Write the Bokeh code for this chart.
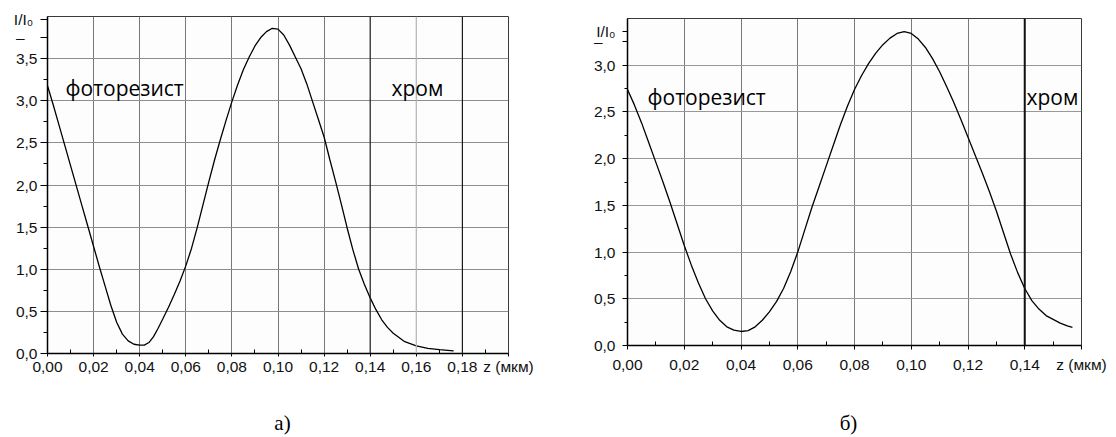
from bokeh.plotting import figure
from bokeh.layouts import row, column
from bokeh.models import FixedTicker, Span, Label, Range1d, CustomJSTickFormatter, LinearAxis
from bokeh.embed import file_html
from bokeh.resources import INLINE

# ---------------- data: chart a) ----------------
za = [0.000, 0.0025, 0.005, 0.0075, 0.010, 0.0125, 0.015, 0.0175, 0.020, 0.0225,
      0.025, 0.0275, 0.030, 0.0325, 0.035, 0.0375, 0.040, 0.042, 0.044, 0.046,
      0.048, 0.050, 0.0525, 0.055, 0.0575, 0.060, 0.0625, 0.065, 0.0675, 0.070,
      0.0725, 0.075, 0.0775, 0.080, 0.0825, 0.085, 0.0875, 0.090, 0.0925, 0.095,
      0.0975, 0.100, 0.1025, 0.105, 0.1075, 0.110, 0.1125, 0.115, 0.1175, 0.120,
      0.1225, 0.125, 0.1275, 0.130, 0.1325, 0.135, 0.1375, 0.140, 0.1425, 0.145,
      0.1475, 0.150, 0.155, 0.160, 0.165, 0.170, 0.1762]
ia = [3.18, 2.95, 2.71, 2.47, 2.23, 1.99, 1.75, 1.51, 1.27, 1.03,
      0.80, 0.57, 0.37, 0.23, 0.15, 0.11, 0.10, 0.10, 0.13, 0.20,
      0.30, 0.41, 0.55, 0.70, 0.86, 1.04, 1.25, 1.50, 1.77, 2.04,
      2.30, 2.54, 2.77, 2.99, 3.19, 3.37, 3.52, 3.65, 3.75, 3.82,
      3.86, 3.85, 3.78, 3.66, 3.52, 3.38, 3.20, 2.99, 2.78, 2.57,
      2.30, 2.04, 1.77, 1.49, 1.23, 1.00, 0.82, 0.66, 0.52, 0.40,
      0.31, 0.24, 0.14, 0.09, 0.06, 0.045, 0.03]
xa_major = [0.00, 0.02, 0.04, 0.06, 0.08, 0.10, 0.12, 0.14, 0.16, 0.18]
xa_minor = [0.01, 0.03, 0.05, 0.07, 0.09, 0.11, 0.13, 0.15, 0.17, 0.19]
ya_major = [0.0, 0.5, 1.0, 1.5, 2.0, 2.5, 3.0, 3.5]
ya_minor = [0.25, 0.75, 1.25, 1.75, 2.25, 2.75, 3.25, 3.75]
xa_max, ya_max = 0.20, 4.0
a_chrome_lines = [0.14, 0.18]
a_light_lines = [0.16]

# ---------------- data: chart б) ----------------
zb = [0.000, 0.0025, 0.005, 0.0075, 0.010, 0.0125, 0.015, 0.0175, 0.020, 0.0225,
      0.025, 0.0275, 0.030, 0.0325, 0.035, 0.0375, 0.040, 0.0425, 0.045, 0.0475,
      0.050, 0.0525, 0.055, 0.0575, 0.060, 0.0625, 0.065, 0.0675, 0.070, 0.0725,
      0.075, 0.0775, 0.080, 0.0825, 0.085, 0.0875, 0.090, 0.0925, 0.095, 0.0975,
      0.100, 0.1025, 0.105, 0.1075, 0.110, 0.1125, 0.115, 0.1175, 0.120, 0.1225,
      0.125, 0.1275, 0.130, 0.1325, 0.135, 0.1375, 0.140, 0.1425, 0.145, 0.1475,
      0.150, 0.1525, 0.155, 0.1568]
ib = [2.74, 2.57, 2.38, 2.17, 1.96, 1.75, 1.53, 1.30, 1.07, 0.86,
      0.67, 0.50, 0.37, 0.27, 0.20, 0.165, 0.15, 0.16, 0.20, 0.27,
      0.36, 0.47, 0.61, 0.79, 1.00, 1.24, 1.48, 1.70, 1.92, 2.14,
      2.36, 2.56, 2.74, 2.89, 3.02, 3.13, 3.22, 3.29, 3.34, 3.36,
      3.34, 3.28, 3.19, 3.07, 2.93, 2.77, 2.60, 2.42, 2.23, 2.04,
      1.85, 1.65, 1.44, 1.21, 0.98, 0.78, 0.61, 0.48, 0.39, 0.32,
      0.28, 0.24, 0.21, 0.195]
xb_major = [0.00, 0.02, 0.04, 0.06, 0.08, 0.10, 0.12, 0.14]
xb_minor = [0.01, 0.03, 0.05, 0.07, 0.09, 0.11, 0.13, 0.15]
yb_major = [0.0, 0.5, 1.0, 1.5, 2.0, 2.5, 3.0]
yb_minor = [0.25, 0.75, 1.25, 1.75, 2.25, 2.75, 3.25]
xb_max, yb_max = 0.16, 3.5
b_chrome_lines = [0.14]

label_resist = "фоторезист"
label_chrome = "хром"
y_label = "I/I\u2080"
dash_label = "\u2013"
x_label = "z (мкм)"
caption_a, caption_b = "а)", "б)"

TICK_FONT = "Liberation Sans"
NB = "\u00a0"


def make_fig(W, H, bl, br, bt, bb, xmax, ymax):
    p = figure(width=W, height=H, output_backend="svg", toolbar_location=None,
               x_range=Range1d(0, xmax), y_range=Range1d(0, ymax),
               min_border_left=bl, min_border_right=br, min_border_top=bt, min_border_bottom=bb)
    p.background_fill_color = "#fdfdfd"
    p.border_fill_color = "white"
    p.outline_line_color = "#3a3a3a"
    p.outline_line_width = 1
    return p


def style_axes(p, xmaj, xmin_, ymaj, ymin_, xmax, y_lab_pos, y_dash_pos, dash_pad, lab_pad,
               x_out, x_stand, y_out, y_stand, y_minor_out):
    xa = p.xaxis[0]
    ya = p.yaxis[0]
    xa.ticker = FixedTicker(ticks=xmaj + [xmax], minor_ticks=xmin_)
    ya.ticker = FixedTicker(ticks=ymaj + [y_dash_pos, y_lab_pos], minor_ticks=ymin_)
    xa.formatter = CustomJSTickFormatter(
        args=dict(xm=xmax, zl=x_label),
        code="if (tick > xm - 1e-9) { return zl; } return tick.toFixed(2).replace('.', ',');")
    ya.formatter = CustomJSTickFormatter(
        args=dict(yl=y_lab_pos, yd=y_dash_pos, lab=y_label + NB * lab_pad, dash=dash_label + NB * dash_pad),
        code=("if (Math.abs(tick - yl) < 1e-6) { return lab; }"
              "if (Math.abs(tick - yd) < 1e-6) { return dash; }"
              "return tick.toFixed(1).replace('.', ',');"))
    for ax in (xa, ya):
        ax.axis_line_color = "black"
        ax.axis_line_width = 1.5
        ax.major_tick_line_color = "black"
        ax.minor_tick_line_color = "black"
        ax.major_label_text_font = TICK_FONT
        ax.major_label_text_font_size = "15.5px"
        ax.major_label_text_color = "#111111"
    xa.major_tick_out = x_out
    xa.major_tick_in = 0
    xa.minor_tick_in = 4
    xa.minor_tick_out = 0
    xa.major_label_standoff = x_stand
    ya.major_tick_out = y_out
    ya.major_tick_in = 0
    ya.minor_tick_out = y_minor_out
    ya.minor_tick_in = 0
    ya.major_label_standoff = y_stand


def add_caption(p, xpos, text, standoff):
    cap = LinearAxis(ticker=FixedTicker(ticks=[xpos], minor_ticks=[]),
                     formatter=CustomJSTickFormatter(args=dict(c=text), code="return c;"))
    cap.axis_line_color = None
    cap.major_tick_line_color = None
    cap.minor_tick_line_color = None
    cap.major_tick_out = 0
    cap.major_tick_in = 0
    cap.minor_tick_out = 0
    cap.minor_tick_in = 0
    cap.major_label_standoff = standoff
    cap.major_label_text_font = "Liberation Serif"
    cap.major_label_text_font_size = "21px"
    cap.major_label_text_color = "black"
    p.add_layout(cap, "below")


def lab(p, conv, px, py, text, size="21px"):
    x, y = conv(px, py)
    p.add_layout(Label(x=x, y=y, text=text, text_font="Open Sans", text_font_size=size,
                       text_align="left", text_baseline="alphabetic", text_color="black"))


# ================= figure a) =================
W1, H1 = 575, 437
L1, R1, T1, B1 = 47, 67, 16, 81
p1 = make_fig(W1, H1, L1, R1, T1, B1, xa_max, ya_max)
style_axes(p1, xa_major, xa_minor, ya_major, ya_minor, xa_max, 3.965, 3.75, 3, 1,
           3, 1, 7, 3, 4)
p1.xgrid.ticker = FixedTicker(ticks=[t for t in xa_major if t not in a_chrome_lines + a_light_lines])
p1.ygrid.ticker = FixedTicker(ticks=ya_major)
p1.xgrid.grid_line_color = "#777777"
p1.ygrid.grid_line_color = "#8e8e8e"
for loc in a_light_lines:
    p1.add_layout(Span(location=loc, dimension="height", line_color="#b4b4b4", line_width=1.2))
for loc in a_chrome_lines:
    p1.add_layout(Span(location=loc, dimension="height", line_color="#1a1a1a", line_width=1.2))
p1.line(za, ia, line_color="black", line_width=1.3)

fw1, fh1 = W1 - L1 - R1, H1 - T1 - B1
def d1(px, py):
    return ((px - L1) * xa_max / fw1, ((T1 + fh1) - py) * ya_max / fh1)

lab(p1, d1, 65, 88.5, label_resist)
lab(p1, d1, 391, 88.5, label_chrome)
add_caption(p1, d1(282, 0)[0], caption_a, 33)

# ================= figure б) =================
W2, H2 = 541, 437
L2, R2, T2, B2 = 52, 35, 18, 89
X2 = W1
p2 = make_fig(W2, H2, L2, R2, T2, B2, xb_max, yb_max)
style_axes(p2, xb_major, xb_minor, yb_major, yb_minor, xb_max, 3.36, 3.25, 3, 0,
           4, 6, 5, 7, 3)
p2.xgrid.ticker = FixedTicker(ticks=[t for t in xb_major if t not in b_chrome_lines])
p2.ygrid.ticker = FixedTicker(ticks=yb_major)
p2.xgrid.grid_line_color = "#7a7a7a"
p2.ygrid.grid_line_color = "#999999"
for loc in b_chrome_lines:
    p2.add_layout(Span(location=loc, dimension="height", line_color="#111111", line_width=2))
p2.line(zb, ib, line_color="black", line_width=1.3)

fw2, fh2 = W2 - L2 - R2, H2 - T2 - B2
def d2(px, py):
    return ((px - (X2 + L2)) * xb_max / fw2, ((T2 + fh2) - py) * yb_max / fh2)

lab(p2, d2, 647, 97.5, label_resist)
lab(p2, d2, 1026, 97.5, label_chrome)
add_caption(p2, d2(848, 0)[0], caption_b, 35)

layout = row(column(p1), column(p2))
open("out.html", "w").write(file_html(layout, INLINE))
